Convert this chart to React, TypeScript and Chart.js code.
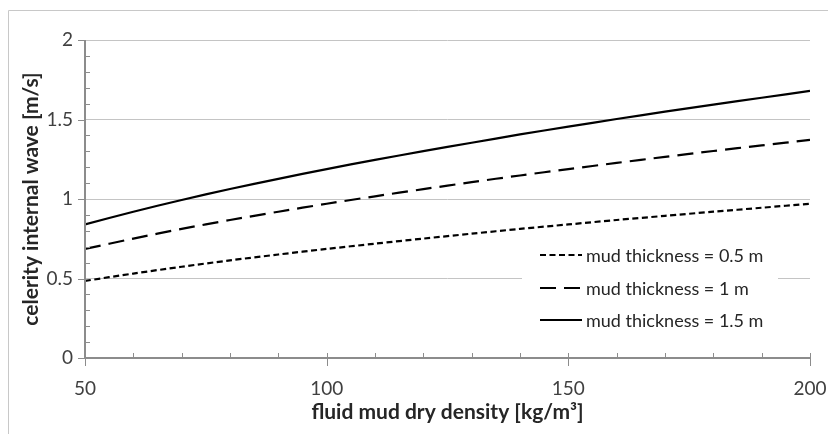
import React, { useEffect, useRef } from "react";
import { Chart, registerables } from "chart.js";

Chart.register(...registerables);

// fluid mud dry density [kg/m³]
const densities = [50, 60, 70, 80, 90, 100, 110, 120, 130, 140, 150, 160, 170, 180, 190, 200];
// celerity internal wave [m/s]
const thick05 = [0.485, 0.531, 0.574, 0.614, 0.651, 0.686, 0.719, 0.751, 0.782, 0.812, 0.84, 0.868, 0.894, 0.92, 0.945, 0.97];
const thick1 = [0.686, 0.751, 0.812, 0.868, 0.92, 0.97, 1.017, 1.062, 1.106, 1.148, 1.188, 1.227, 1.265, 1.302, 1.337, 1.372];
const thick15 = [0.84, 0.92, 0.994, 1.063, 1.127, 1.188, 1.246, 1.301, 1.354, 1.406, 1.455, 1.503, 1.549, 1.594, 1.637, 1.68];
const seriesLabels = ["mud thickness = 0.5 m", "mud thickness = 1 m", "mud thickness = 1.5 m"];
const xTitle = "fluid mud dry density [kg/m³]";
const yTitle = "celerity internal wave [m/s]";

const FONT = "Lato, 'Open Sans', sans-serif";
const AXIS = "#8c8c8c";
const GRID = "#c4c4c4";

const decorPlugin = {
  id: "decor",
  beforeDatasetsDraw(chart: any) {
    const ctx = chart.ctx;
    const area = chart.chartArea;
    // legend box inside plot
    const bx0 = area.left + 437;
    const bx1 = area.left + 693;
    const by0 = area.top + 200;
    const by1 = area.top + 296;
    ctx.save();
    ctx.fillStyle = "#ffffff";
    ctx.fillRect(bx0, by0, bx1 - bx0, by1 - by0);
    const ds = chart.data.datasets;
    const rows = [by0 + 15, by0 + 48, by0 + 80];
    ds.forEach((d: any, i: number) => {
      const y = rows[i];
      ctx.beginPath();
      ctx.setLineDash(d.borderDash || []);
      ctx.lineWidth = d.borderWidth;
      ctx.strokeStyle = d.borderColor;
      ctx.moveTo(bx0 + 18, y);
      ctx.lineTo(bx0 + 60, y);
      ctx.stroke();
      ctx.setLineDash([]);
      ctx.fillStyle = "#262626";
      ctx.font = `18px ${FONT}`;
      ctx.textBaseline = "middle";
      ctx.textAlign = "left";
      ctx.fillText(d.label, bx0 + 64, y + 1);
    });
    ctx.restore();
  },
  afterDraw(chart: any) {
    const ctx = chart.ctx;
    const area = chart.chartArea;
    const xs = chart.scales.x;
    const ys = chart.scales.y;
    ctx.save();
    // outer frame
    ctx.strokeStyle = "#c8c8c8";
    ctx.lineWidth = 1;
    ctx.beginPath();
    ctx.moveTo(8.5, chart.height);
    ctx.lineTo(8.5, 10.5);
    ctx.lineTo(chart.width, 10.5);
    ctx.stroke();
    // axis lines
    ctx.strokeStyle = AXIS;
    ctx.lineWidth = 2;
    ctx.beginPath();
    ctx.moveTo(area.left, area.top);
    ctx.lineTo(area.left, area.bottom);
    ctx.lineTo(area.right, area.bottom);
    ctx.stroke();
    // y ticks
    ctx.lineWidth = 1;
    ctx.beginPath();
    for (let k = 0; k <= 20; k++) {
      const v = k / 10;
      const py = Math.round(ys.getPixelForValue(v)) + 0.5;
      if (k % 5 === 0) {
        ctx.moveTo(area.left - 7, py);
        ctx.lineTo(area.left, py);
      } else {
        ctx.moveTo(area.left, py);
        ctx.lineTo(area.left + 5, py);
      }
    }
    // x ticks
    for (let v = 50; v <= 200; v += 10) {
      const px = Math.round(xs.getPixelForValue(v)) + 0.5;
      if ((v - 50) % 50 === 0) {
        ctx.moveTo(px, area.bottom - 5);
        ctx.lineTo(px, area.bottom + 8);
      } else {
        ctx.moveTo(px, area.bottom - 5);
        ctx.lineTo(px, area.bottom);
      }
    }
    ctx.stroke();
    ctx.restore();
  },
};

export default function App() {
  const ref = useRef<HTMLCanvasElement>(null);
  useEffect(() => {
    if (!ref.current) return;
    const mk = (ys: number[]) => densities.map((x, i) => ({ x, y: ys[i] }));
    const chart = new Chart(ref.current, {
      type: "line",
      data: {
        datasets: [
          { label: seriesLabels[0], data: mk(thick05), borderColor: "#000", borderWidth: 2.2, borderDash: [6, 3.5], pointRadius: 0, tension: 0.3, fill: false },
          { label: seriesLabels[1], data: mk(thick1), borderColor: "#000", borderWidth: 2.2, borderDash: [16, 8], pointRadius: 0, tension: 0.3, fill: false },
          { label: seriesLabels[2], data: mk(thick15), borderColor: "#000", borderWidth: 2.2, pointRadius: 0, tension: 0.3, fill: false },
        ],
      },
      options: {
        animation: false,
        responsive: false,
        devicePixelRatio: 1,
        layout: { padding: { left: 0, top: 40, right: 18, bottom: 0 } },
        plugins: { legend: { display: false }, tooltip: { enabled: false } },
        scales: {
          x: {
            type: "linear",
            min: 50,
            max: 200,
            ticks: { stepSize: 50, color: "#404040", font: { family: FONT, size: 19 }, padding: 11, callback: (v: any) => String(v) },
            grid: { display: false },
            border: { display: false },
            title: { display: true, text: xTitle, color: "#262626", font: { family: FONT, size: 21, weight: "bold" }, padding: { top: 0, bottom: 9 } },
            afterFit: (s: any) => { s.height = 76; s.paddingRight = 0; s.paddingLeft = 0; },
          },
          y: {
            type: "linear",
            min: 0,
            max: 2,
            ticks: { stepSize: 0.5, color: "#404040", font: { family: FONT, size: 19 }, padding: 12, callback: (v: any) => String(v) },
            grid: { color: GRID, lineWidth: 1, drawTicks: false },
            border: { display: false },
            title: { display: true, text: yTitle, color: "#262626", font: { family: FONT, size: 21, weight: "bold" }, padding: { top: 19, bottom: 0 } },
            afterFit: (s: any) => { s.width = 85; },
          },
        },
      },
      plugins: [decorPlugin],
    } as any);
    return () => chart.destroy();
  }, []);
  return (
    <div style={{ position: "absolute", left: 0, top: 0, width: 828, height: 434 }}>
      <canvas ref={ref} width={828} height={434} style={{ width: 828, height: 434, display: "block" }} />
    </div>
  );
}
